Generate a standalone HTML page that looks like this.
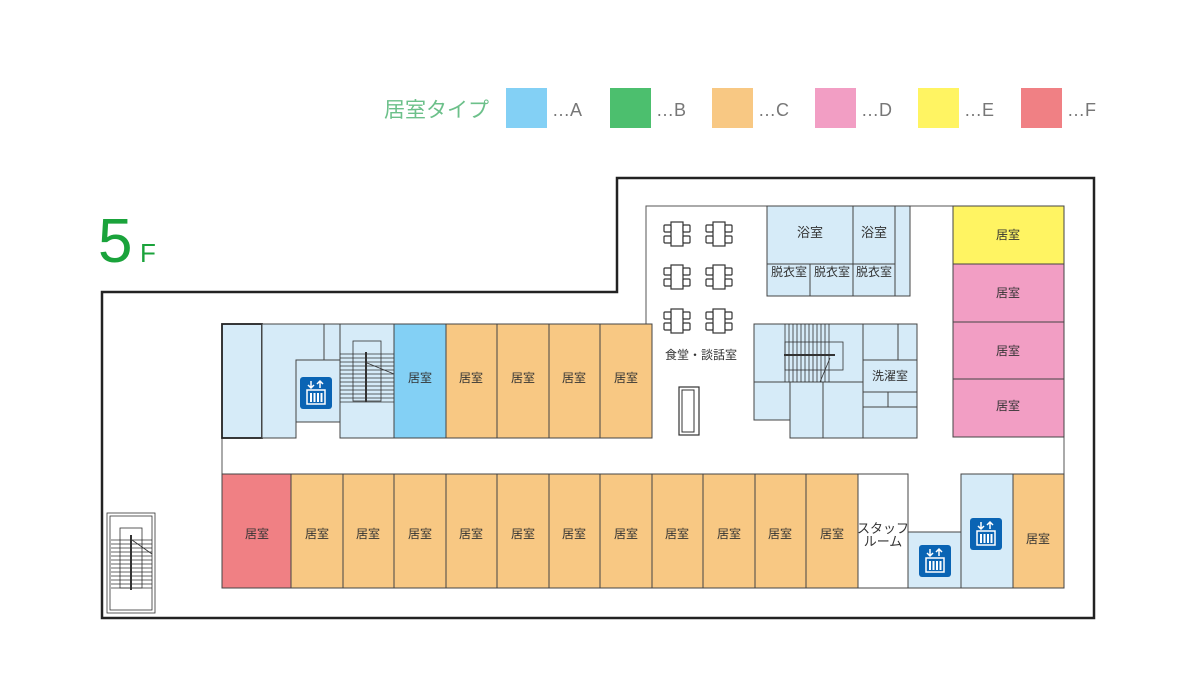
<!DOCTYPE html>
<html><head><meta charset="utf-8"><style>
body{margin:0;background:#fff}
svg text{font-family:"Liberation Sans","Noto Sans CJK JP",sans-serif;}
</style></head><body>
<svg width="1200" height="676" viewBox="0 0 1200 676" xmlns="http://www.w3.org/2000/svg">
<defs>
<g id="ev">
<rect x="0" y="0" width="32" height="32" rx="3" fill="#0a64b4"/>
<rect x="7" y="13" width="18" height="14" fill="none" stroke="#fff" stroke-width="1.5"/>
<path d="M11 4v7M8 8l3 3 3-3M20 11V4M17 7l3-3 3 3" stroke="#fff" stroke-width="1.5" fill="none"/>
<path d="M11 16v9M14.5 16v9M18 16v9M21.5 16v9" stroke="#fff" stroke-width="2"/>
</g>
<g id="tbl" fill="#fff" stroke="#333" stroke-width="1.2">
<rect x="7" y="0" width="12" height="24"/>
<rect x="0" y="3" width="7" height="7" rx="1"/><rect x="0" y="14" width="7" height="7" rx="1"/>
<rect x="19" y="3" width="7" height="7" rx="1"/><rect x="19" y="14" width="7" height="7" rx="1"/>
</g>
</defs>

<!-- legend -->
<g font-size="21" fill="#6cc08a"><text x="384" y="117">居室タイプ</text></g>
<g font-size="18" fill="#777">
<rect x="506" y="88" width="41" height="40" fill="#83d0f5"/><text x="552" y="116">…A</text>
<rect x="610" y="88" width="41" height="40" fill="#4cbf6e"/><text x="656" y="116">…B</text>
<rect x="712" y="88" width="41" height="40" fill="#f8c883"/><text x="758" y="116">…C</text>
<rect x="815" y="88" width="41" height="40" fill="#f29ec4"/><text x="861" y="116">…D</text>
<rect x="918" y="88" width="41" height="40" fill="#fff462"/><text x="964" y="116">…E</text>
<rect x="1021" y="88" width="41" height="40" fill="#f08084"/><text x="1067" y="116">…F</text>
</g>
<text x="98" y="262" font-size="62" fill="#1aa33b">5</text>
<text x="140" y="262" font-size="26" fill="#1aa33b">F</text>

<!-- outer wall -->
<path d="M102 292H617V178H1094V618H102Z" fill="none" stroke="#222" stroke-width="2.5"/>
<!-- inner lines -->
<path d="M646 324V206H1064V588" fill="none" stroke="#555" stroke-width="1"/>
<path d="M222 438V588" stroke="#555" stroke-width="1"/>

<g stroke="#444" stroke-width="1">
<rect x="222" y="324" width="40" height="114" fill="#d6ebf8" stroke="#222" stroke-width="1.8"/>
<path d="M262 324H340V360H296V438H262Z" fill="#d6ebf8"/>
<rect x="324" y="324" width="16" height="36" fill="#d6ebf8"/>
<rect x="296" y="360" width="44" height="62" fill="#d6ebf8"/>
<rect x="340" y="324" width="54" height="114" fill="#d6ebf8"/>
<rect x="394" y="324" width="52" height="114" fill="#83d0f5"/>
<rect x="446" y="324" width="51" height="114" fill="#f8c883"/>
<rect x="497" y="324" width="52" height="114" fill="#f8c883"/>
<rect x="549" y="324" width="51" height="114" fill="#f8c883"/>
<rect x="600" y="324" width="52" height="114" fill="#f8c883"/>
<rect x="222" y="474" width="69" height="114" fill="#f08084"/>
<rect x="291" y="474" width="52" height="114" fill="#f8c883"/>
<rect x="343" y="474" width="51" height="114" fill="#f8c883"/>
<rect x="394" y="474" width="52" height="114" fill="#f8c883"/>
<rect x="446" y="474" width="51" height="114" fill="#f8c883"/>
<rect x="497" y="474" width="52" height="114" fill="#f8c883"/>
<rect x="549" y="474" width="51" height="114" fill="#f8c883"/>
<rect x="600" y="474" width="52" height="114" fill="#f8c883"/>
<rect x="652" y="474" width="51" height="114" fill="#f8c883"/>
<rect x="703" y="474" width="52" height="114" fill="#f8c883"/>
<rect x="755" y="474" width="51" height="114" fill="#f8c883"/>
<rect x="806" y="474" width="52" height="114" fill="#f8c883"/>
<rect x="858" y="474" width="50" height="114" fill="#fff"/>
<rect x="908" y="532" width="53" height="56" fill="#d6ebf8"/>
<rect x="961" y="474" width="52" height="114" fill="#d6ebf8"/>
<rect x="1013" y="474" width="51" height="114" fill="#f8c883"/>
<rect x="953" y="206" width="111" height="58" fill="#fff462"/>
<rect x="953" y="264" width="111" height="58" fill="#f29ec4"/>
<rect x="953" y="322" width="111" height="57" fill="#f29ec4"/>
<rect x="953" y="379" width="111" height="58" fill="#f29ec4"/>
<rect x="767" y="206" width="86" height="58" fill="#d6ebf8"/>
<rect x="853" y="206" width="42" height="58" fill="#d6ebf8"/>
<rect x="895" y="206" width="15" height="90" fill="#d6ebf8"/>
<rect x="767" y="264" width="43" height="32" fill="#d6ebf8"/>
<rect x="810" y="264" width="43" height="32" fill="#d6ebf8"/>
<rect x="853" y="264" width="42" height="32" fill="#d6ebf8"/>
<rect x="754" y="324" width="109" height="58" fill="#d6ebf8"/>
<rect x="754" y="382" width="36" height="38" fill="#d6ebf8"/>
<rect x="790" y="382" width="33" height="56" fill="#d6ebf8"/>
<rect x="823" y="382" width="40" height="56" fill="#d6ebf8"/>
<rect x="863" y="324" width="54" height="36" fill="#d6ebf8"/>
<line x1="898" y1="324" x2="898" y2="360"/>
<rect x="863" y="360" width="54" height="32" fill="#d6ebf8"/>
<rect x="863" y="392" width="54" height="15" fill="#d6ebf8"/>
<line x1="888" y1="392" x2="888" y2="407"/>
<rect x="863" y="407" width="54" height="31" fill="#d6ebf8"/>
</g>
<g stroke="#333" stroke-width="0.8" fill="none">
<path d="M785 324V382M789 324V382M793 324V382M797 324V382M801 324V382M805 324V382M809 324V382M813 324V382M817 324V382M821 324V382M825 324V382M829 324V382"/>
<rect x="785" y="342" width="58" height="28"/>
<line x1="784" y1="355" x2="835" y2="355" stroke-width="2"/>
<line x1="820" y1="382" x2="830" y2="358"/>
</g>
<g stroke="#333" stroke-width="0.8" fill="none">
<path d="M340 354H394M340 358H394M340 362H394M340 366H394M340 370H394M340 374H394M340 378H394M340 382H394M340 386H394M340 390H394M340 394H394M340 398H394M340 402H394"/>
<rect x="353" y="341" width="28" height="60"/>
<line x1="366" y1="352" x2="366" y2="402" stroke-width="2"/>
<line x1="367" y1="363" x2="394" y2="374"/>
</g>
<g stroke="#333" stroke-width="0.8" fill="none">
<rect x="107" y="513" width="48" height="100"/>
<rect x="110" y="516" width="42" height="94"/>
<path d="M111 540H152M111 544H152M111 548H152M111 552H152M111 556H152M111 560H152M111 564H152M111 568H152M111 572H152M111 576H152M111 580H152M111 584H152M111 588H152"/>
<rect x="120" y="528" width="22" height="60"/>
<line x1="131" y1="535" x2="131" y2="590" stroke-width="2"/>
<line x1="132" y1="540" x2="152" y2="554"/>
</g>
<use href="#ev" x="300" y="377"/>
<use href="#ev" x="919" y="545"/>
<use href="#ev" x="970" y="518"/>
<use href="#tbl" x="664" y="222"/><use href="#tbl" x="706" y="222"/>
<use href="#tbl" x="664" y="265"/><use href="#tbl" x="706" y="265"/>
<use href="#tbl" x="664" y="309"/><use href="#tbl" x="706" y="309"/>
<rect x="679" y="387" width="20" height="48" fill="#fff" stroke="#333" stroke-width="1.2"/>
<rect x="682" y="390" width="12" height="42" fill="none" stroke="#333" stroke-width="1"/>

<g font-size="12" fill="#333" text-anchor="middle">
<text x="420" y="382">居室</text><text x="471" y="382">居室</text><text x="523" y="382">居室</text><text x="574" y="382">居室</text><text x="626" y="382">居室</text>
<text x="257" y="538">居室</text><text x="317" y="538">居室</text><text x="368" y="538">居室</text><text x="420" y="538">居室</text><text x="471" y="538">居室</text><text x="523" y="538">居室</text><text x="574" y="538">居室</text><text x="626" y="538">居室</text><text x="677" y="538">居室</text><text x="729" y="538">居室</text><text x="780" y="538">居室</text><text x="832" y="538">居室</text><text x="1038" y="543">居室</text>
<text x="883" y="533" font-size="13">スタッフ</text><text x="883" y="546" font-size="13">ルーム</text>
<text x="1008" y="239">居室</text><text x="1008" y="297">居室</text><text x="1008" y="355">居室</text><text x="1008" y="410">居室</text>
<text x="810" y="237" font-size="13">浴室</text><text x="874" y="237" font-size="13">浴室</text>
<text x="789" y="276">脱衣室</text><text x="832" y="276">脱衣室</text><text x="874" y="276">脱衣室</text>
<text x="890" y="380">洗濯室</text>
<text x="701" y="359">食堂・談話室</text>
</g>
</svg>
</body></html>
